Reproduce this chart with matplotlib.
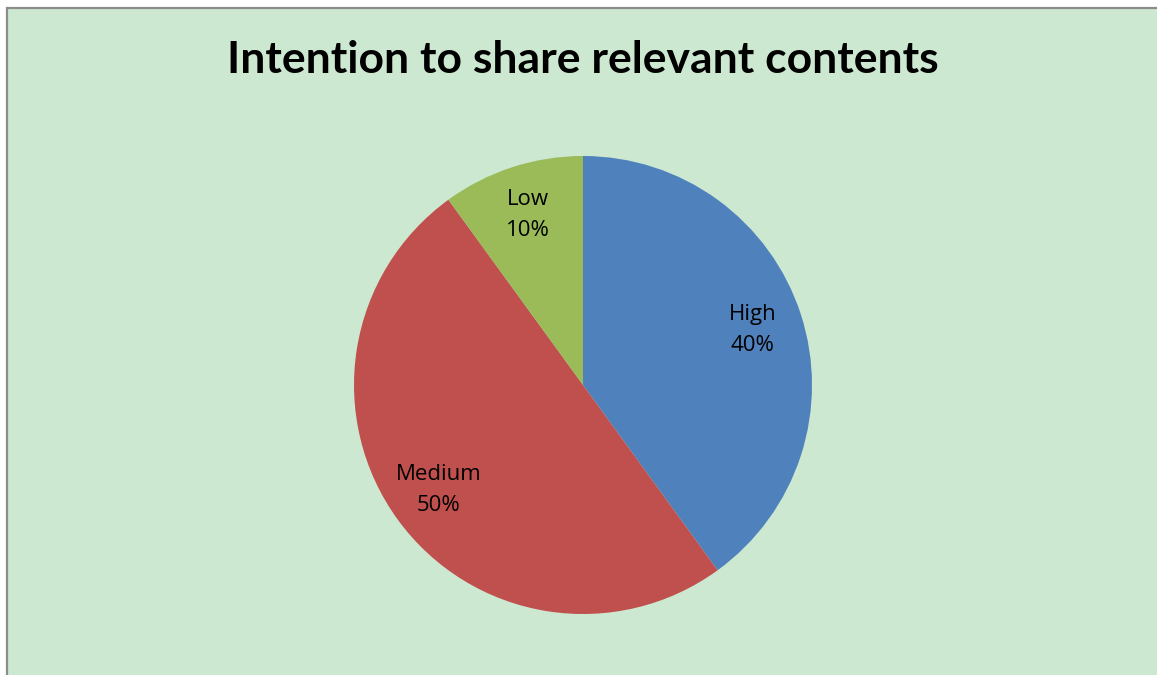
import matplotlib
matplotlib.use("Agg")
import matplotlib.pyplot as plt
from matplotlib.patches import Rectangle

categories = ["High", "Medium", "Low"]
values = [40, 50, 10]
colors = ["#4F81BD", "#C0504D", "#9BBB59"]

W, H = 1157, 675
fig = plt.figure(figsize=(W / 100, H / 100), dpi=100, facecolor="white")

# chart area: light green with grey border on top/left (rest cropped)
fig.patches.append(Rectangle((7 / W, -0.05), 1.1, 1 - 8 / H + 0.05,
                             transform=fig.transFigure, facecolor="#CCE8D0",
                             edgecolor="#8C8C8C", linewidth=1.6, zorder=-5))

fig.text(583 / W, 1 - 60 / H, "Intention to share relevant contents",
         ha="center", va="center", fontsize=32, fontweight="bold",
         family="Lato", color="black")

cx, cy, r = 583, 385, 229
ax = fig.add_axes([(cx - r) / W, (H - cy - r) / H, 2 * r / W, 2 * r / H])
ax.set_facecolor("none")
ax.set_zorder(2)

labels_iter = iter(categories)
def fmt(p):
    return f"{next(labels_iter)}\n{p:.0f}%"

wedges, texts, autotexts = ax.pie(values, colors=colors, startangle=90,
                                  counterclock=False, autopct=fmt,
                                  pctdistance=0.78,
                                  wedgeprops=dict(linewidth=0),
                                  textprops=dict(fontsize=16, family="Open Sans",
                                                 color="black", linespacing=1.6))
ax.set_xlim(-1, 1)
ax.set_ylim(-1, 1)

fig.savefig("out.png", dpi=100)
